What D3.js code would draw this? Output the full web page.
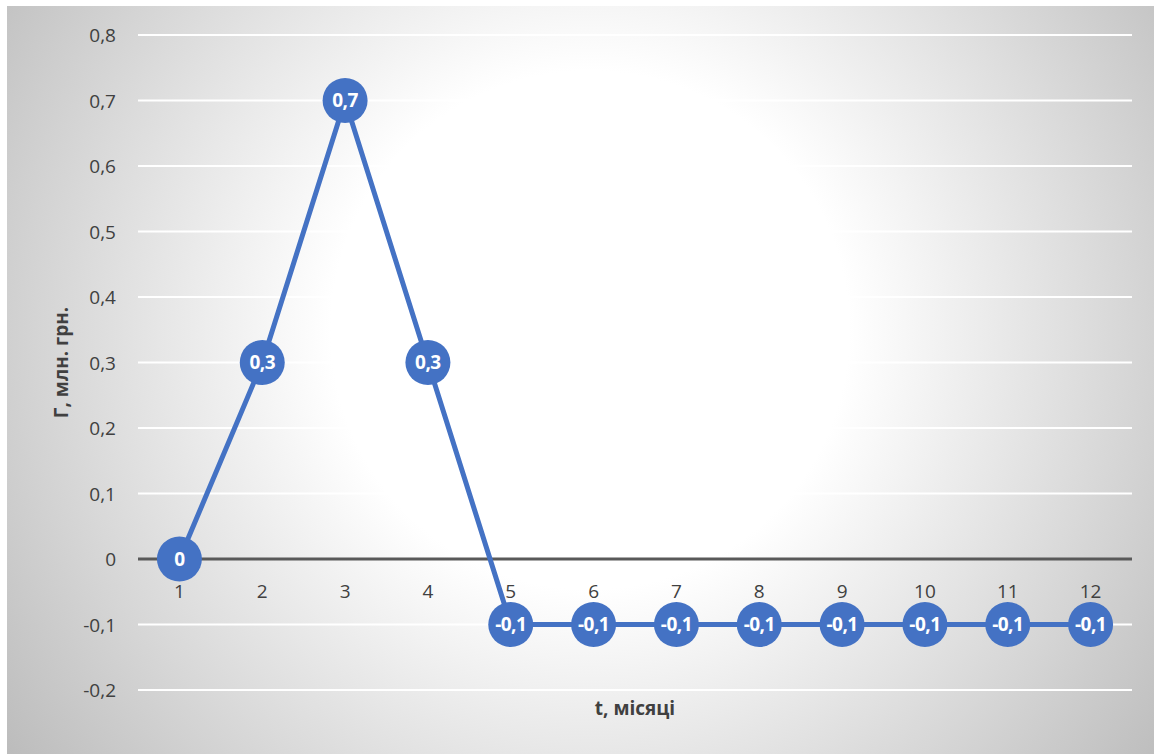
<!DOCTYPE html>
<html>
<head>
<meta charset="utf-8">
<script src="https://cdn.jsdelivr.net/npm/d3@7"></script>
<style>
  html, body { margin: 0; padding: 0; background: #ffffff; }
  svg { display: block; }
  text { font-family: "Open Sans", "Noto Sans", sans-serif; }
</style>
</head>
<body>
<svg id="chart" width="1154" height="754"></svg>
<script>
// Monthly values, млн. грн.
const months = [1, 2, 3, 4, 5, 6, 7, 8, 9, 10, 11, 12];
const values = [0, 0.3, 0.7, 0.3, -0.1, -0.1, -0.1, -0.1, -0.1, -0.1, -0.1, -0.1];
const yTicks = [-0.2, -0.1, 0, 0.1, 0.2, 0.3, 0.4, 0.5, 0.6, 0.7, 0.8];
const xTitle = "t, місяці";
const yTitle = "Г, млн. грн.";

const W = 1154, H = 754;
const plot = { left: 138, right: 1132, top: 35, bottom: 690 };
const blue = "#4472C4";

const svg = d3.select("#chart");
const fmt = v => (Math.abs(v) < 1e-9 ? "0" : d3.format(".1f")(v).replace(".", ",").replace("−", "-"));

// Chart area background: soft radial light
const defs = svg.append("defs");
const grad = defs.append("radialGradient")
  .attr("id", "bg")
  .attr("gradientUnits", "userSpaceOnUse")
  .attr("cx", 590).attr("cy", 330).attr("r", 720);
grad.append("stop").attr("offset", "0").attr("stop-color", "#ffffff");
grad.append("stop").attr("offset", "0.36").attr("stop-color", "#ffffff");
grad.append("stop").attr("offset", "1").attr("stop-color", "#bcbcbc");

svg.append("rect")
  .attr("x", 7).attr("y", 6)
  .attr("width", W - 7).attr("height", H - 6)
  .attr("fill", "url(#bg)");

const x = d3.scaleBand().domain(months).range([plot.left, plot.right]);
const y = d3.scaleLinear().domain([-0.2, 0.8]).range([plot.bottom, plot.top]);
const cx = m => x(m) + x.bandwidth() / 2;

// Gridlines
svg.append("g")
  .selectAll("line")
  .data(yTicks.filter(t => Math.abs(t) > 1e-9))
  .join("line")
  .attr("x1", plot.left).attr("x2", plot.right)
  .attr("y1", d => y(d)).attr("y2", d => y(d))
  .attr("stroke", "#ffffff").attr("stroke-width", 2);

// Y axis labels
const yAxis = d3.axisLeft(y).tickValues(yTicks).tickFormat(fmt).tickSize(0).tickPadding(0);
const gy = svg.append("g").attr("transform", `translate(${plot.left - 22},0)`).call(yAxis);
gy.select(".domain").remove();
gy.selectAll("text")
  .attr("fill", "#404040")
  .style("font-size", "19px")
  .attr("dy", "0.36em");

// Zero baseline
svg.append("line")
  .attr("x1", plot.left).attr("x2", plot.right)
  .attr("y1", y(0)).attr("y2", y(0))
  .attr("stroke", "#595959").attr("stroke-width", 3);

// X axis category labels beside the zero line
const xAxis = d3.axisBottom(x).tickSize(0).tickPadding(0);
const gx = svg.append("g").attr("transform", `translate(0,${y(0)})`).call(xAxis);
gx.select(".domain").remove();
gx.selectAll("text")
  .attr("fill", "#404040")
  .style("font-size", "19px")
  .attr("y", 39)
  .attr("dy", "0");

// Series line
const line = d3.line().x((d, i) => cx(months[i])).y(d => y(d));
svg.append("path")
  .datum(values)
  .attr("d", line)
  .attr("fill", "none")
  .attr("stroke", blue)
  .attr("stroke-width", 5)
  .attr("stroke-linejoin", "round");

// Markers with value labels
const pts = svg.append("g").selectAll("g")
  .data(values.map((v, i) => ({ m: months[i], v })))
  .join("g")
  .attr("transform", d => `translate(${cx(d.m)},${y(d.v)})`);
pts.append("circle")
  .attr("r", 22.5)
  .attr("fill", blue);
pts.append("text")
  .attr("text-anchor", "middle")
  .attr("dy", "0.36em")
  .attr("fill", "#ffffff")
  .style("font-size", "19px")
  .style("font-weight", "bold")
  .style("letter-spacing", "-0.5px")
  .text(d => fmt(d.v));

// Axis titles
svg.append("text")
  .attr("x", (plot.left + plot.right) / 2)
  .attr("y", 715)
  .attr("text-anchor", "middle")
  .attr("fill", "#404040")
  .style("font-size", "19px")
  .style("font-weight", "bold")
  .text(xTitle);

svg.append("text")
  .attr("transform", `translate(68,${(plot.top + plot.bottom) / 2}) rotate(-90)`)
  .attr("text-anchor", "middle")
  .attr("fill", "#404040")
  .style("font-size", "19px")
  .style("font-weight", "bold")
  .text(yTitle);
</script>
</body>
</html>
